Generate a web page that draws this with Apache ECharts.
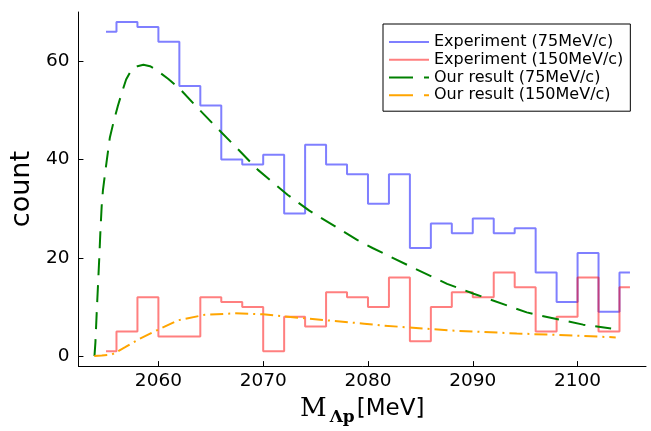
<!DOCTYPE html>
<html>
<head>
<meta charset="utf-8">
<script src="https://cdn.jsdelivr.net/npm/echarts@6/dist/echarts.min.js"></script>
<style>
html,body{margin:0;padding:0;background:#fff;}
#chart{width:651px;height:431px;}
</style>
</head>
<body>
<div id="chart"></div>
<script>
// Histogram bin centres (MeV)
const binCenters = [2055, 2057, 2059, 2061, 2063, 2065, 2067, 2069, 2071, 2073, 2075, 2077, 2079,
                    2081, 2083, 2085, 2087, 2089, 2091, 2093, 2095, 2097, 2099, 2101, 2103, 2105];
// Experiment (75MeV/c)
const exp75 = [66, 68, 67, 64, 55, 51, 40, 39, 41, 29, 43, 39, 37,
               31, 37, 22, 27, 25, 28, 25, 26, 17, 11, 21, 9, 17];
// Experiment (150MeV/c)
const exp150 = [1, 5, 12, 4, 4, 12, 11, 10, 1, 8, 6, 13, 12,
                10, 16, 3, 10, 13, 12, 17, 14, 5, 8, 16, 5, 14];
// Our result (75MeV/c)
const res75X = [2053.9, 2053.99, 2054.11, 2054.22, 2054.36, 2054.47, 2054.59, 2054.71, 2055.04, 2055.37,
                2055.75, 2056.13, 2056.51, 2056.92, 2057.46, 2058.0, 2058.57, 2059.2, 2059.84, 2060.95,
                2062.05, 2063.48, 2065.7, 2067.6, 2069.5, 2072.35, 2074.4, 2079.0, 2080.43, 2084.0,
                2087.55, 2090.08, 2095.15, 2096.1, 2100.53, 2103.2];
const res75Y = [0, 2.8, 8.7, 13.7, 20.1, 25.6, 30.6, 33.8, 39.3, 44.5,
                47.9, 50.9, 53.6, 56.3, 58.4, 59.0, 59.3, 59.0, 58.2, 56.4,
                54.4, 51.1, 46.2, 42.1, 37.9, 32.8, 29.6, 23.6, 22.0, 18.3,
                14.7, 12.7, 8.9, 8.4, 6.4, 5.6];
// Our result (150MeV/c)
const res150X = [2053.88, 2054.6, 2055.56, 2056.83, 2058.1, 2060, 2061.9, 2064.43, 2067.28, 2069.98,
                 2073.93, 2079.63, 2081.53, 2087.87, 2094.2, 2100.53, 2103.64];
const res150Y = [0, 0.1, 0.3, 1.8, 3.4, 5.4, 7.3, 8.4, 8.7, 8.5,
                 7.7, 6.6, 6.2, 5.2, 4.6, 4.1, 3.8];
// Axis ticks
const xTicks = [2060, 2070, 2080, 2090, 2100];
const yTicks = [0, 20, 40, 60];
const seriesNames = ['Experiment (75MeV/c)', 'Experiment (150MeV/c)', 'Our result (75MeV/c)', 'Our result (150MeV/c)'];

const zip = (xs, ys) => xs.map((x, i) => [x, ys[i]]);
const FONT = 'DejaVu Sans';

const chart = echarts.init(document.getElementById('chart'), null, {renderer: 'canvas'});
chart.setOption({
  animation: false,
  backgroundColor: '#fff',
  grid: {left: 77, right: 5, top: 12, bottom: 57, containLabel: false},
  legend: {
    orient: 'vertical',
    left: 383, top: 24,
    padding: [9, 7, 7, 5],
    backgroundColor: '#fff',
    borderColor: '#000',
    borderWidth: 1,
    borderRadius: 0,
    itemWidth: 40,
    itemHeight: 12,
    itemGap: 0,
    selectedMode: false,
    itemStyle: {opacity: 0},
    textStyle: {fontSize: 16, fontFamily: FONT, color: '#000', lineHeight: 17.8},
    data: [
      {name: seriesNames[0]},
      {name: seriesNames[1]},
      {name: seriesNames[2], lineStyle: {type: [24, 11]}},
      {name: seriesNames[3], lineStyle: {type: [24, 11]}}
    ]
  },
  xAxis: {
    type: 'value',
    min: 2052.37, max: 2106.53,
    name: '{m|M}{s|Λp}{u|[MeV]}',
    nameLocation: 'middle',
    nameGap: 20,
    nameTextStyle: {
      color: '#000',
      rich: {
        m: {fontFamily: 'DejaVu Serif', fontSize: 26, color: '#000'},
        s: {fontFamily: 'DejaVu Serif', fontWeight: 'bold', fontSize: 17, color: '#000', padding: [17, 2, 0, 3]},
        u: {fontFamily: FONT, fontSize: 23, color: '#000'}
      }
    },
    splitLine: {show: false},
    axisLine: {show: true, onZero: false, lineStyle: {color: '#000', width: 1}},
    axisTick: {show: true, inside: true, length: 5, customValues: xTicks, lineStyle: {color: '#000'}},
    axisLabel: {customValues: xTicks, fontSize: 18.5, fontFamily: FONT, color: '#000', margin: 6,
                formatter: v => String(v)}
  },
  yAxis: {
    type: 'value',
    min: -2.04, max: 70.04,
    name: 'count',
    nameLocation: 'middle',
    nameGap: 33,
    nameRotate: 90,
    nameTextStyle: {fontSize: 27, fontFamily: FONT, color: '#000'},
    splitLine: {show: false},
    axisLine: {show: true, onZero: false, lineStyle: {color: '#000', width: 1}},
    axisTick: {show: true, inside: true, length: 5, customValues: yTicks, lineStyle: {color: '#000'}},
    axisLabel: {customValues: yTicks, fontSize: 18.5, fontFamily: FONT, color: '#000', margin: 9,
                formatter: v => String(v)}
  },
  series: [
    {
      name: seriesNames[0], type: 'line', step: 'middle', symbol: 'none',
      data: zip(binCenters, exp75),
      lineStyle: {color: 'rgba(0,0,255,0.5)', width: 2},
      itemStyle: {color: 'rgba(0,0,255,0.5)'}
    },
    {
      name: seriesNames[1], type: 'line', step: 'middle', symbol: 'none',
      data: zip(binCenters, exp150),
      lineStyle: {color: 'rgba(255,0,0,0.5)', width: 2},
      itemStyle: {color: 'rgba(255,0,0,0.5)'}
    },
    {
      name: seriesNames[2], type: 'line', symbol: 'none', smooth: false,
      data: zip(res75X, res75Y),
      lineStyle: {color: '#008000', width: 2, type: [17, 10]},
      itemStyle: {color: '#008000'}
    },
    {
      name: seriesNames[3], type: 'line', symbol: 'none', smooth: false,
      data: zip(res150X, res150Y),
      lineStyle: {color: '#ffa500', width: 2, type: [13, 5, 2, 5]},
      itemStyle: {color: '#ffa500'}
    }
  ]
});
</script>
</body>
</html>
